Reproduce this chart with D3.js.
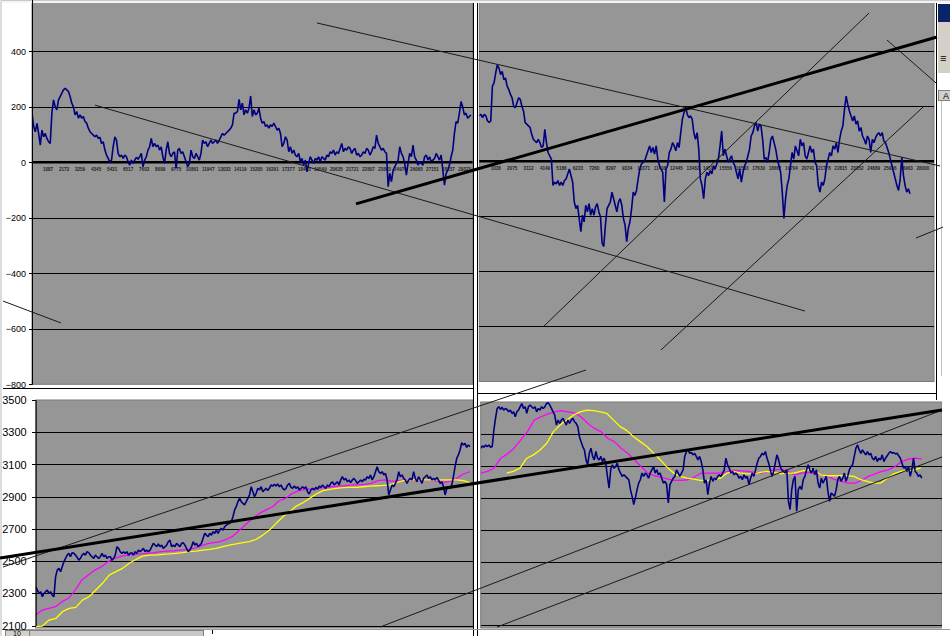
<!DOCTYPE html>
<html>
<head>
<meta charset="utf-8">
<script src="https://cdn.jsdelivr.net/npm/d3@7"></script>
<style>
body { margin: 0; background: #fff; overflow: hidden; }
svg { display: block; font-family: Arial, "Liberation Sans", sans-serif; }
</style>
</head>
<body>
<svg width="950" height="636"></svg>
<script>
// ---- data ----
var oscTicks = [400, 200, 0, -200, -400, -600, -800];
var oscGrid = [400, 200, -200, -400, -600];
var priceTicks = [3500, 3300, 3100, 2900, 2700, 2500, 2300, 2100];
var priceGrid = [3300, 3100, 2900, 2700, 2500, 2300, 2100];

var xLabelsLeft = [1087, 2173, 3259, 4345, 5431, 6517, 7603, 8689, 9775, 10861, 11947, 13033, 14119, 15205,
  16291, 17377, 18463, 19549, 20635, 21721, 22807, 23893, 24979, 26065, 27151, 28237, 29323];
var xLabelsRight = [1038, 2075, 3112, 4149, 5186, 6223, 7260, 8297, 9334, 10371, 11408, 12445, 13482, 14519,
  15556, 16593, 17630, 18667, 19704, 20741, 21778, 22815, 23852, 24889, 25926, 26963, 28000];

// oscillator, left window (categories 0..29760)
var oscLeftSpan = [0, 29760];
var oscLeft = [177,129,110,140,104,62,116,92,104,86,74,68,177,225,200,189,225,237,249,261,267,261,255,237,213,200,
  171,183,159,171,159,165,147,141,123,110,104,98,92,98,86,90,68,74,44,26,14,0,8,56,92,80,32,20,26,14,26,20,2,-10,
  8,-4,8,18,11,20,32,-16,8,20,44,56,86,56,68,56,62,44,56,20,-4,44,74,32,20,32,38,-22,44,50,32,38,20,2,-16,-4,44,
  20,14,32,20,8,32,80,68,74,56,68,80,68,74,80,68,80,92,104,98,104,110,116,123,135,177,177,183,227,189,213,171,189,
  177,195,239,165,189,171,177,195,159,141,147,129,135,123,135,129,141,129,116,123,104,56,68,92,80,38,56,32,44,26,
  20,32,2,14,-10,8,-34,-4,20,8,-4,14,8,20,2,20,14,8,26,20,38,32,44,26,38,32,50,68,38,50,44,56,50,32,44,50,26,32,
  20,26,38,32,50,44,26,38,56,50,98,68,56,44,50,38,32,-88,-40,-70,-28,-16,-4,8,56,32,20,-4,-46,-4,32,20,62,20,8,
  -10,2,-4,-10,20,26,8,20,2,8,14,32,20,8,26,-28,-82,-40,-28,-10,20,44,104,147,141,177,219,200,171,177,159,165,171];

// oscillator, right window (categories 0..27186)
var oscRightSpan = [0, 27186];
var oscRight = [165,171,159,171,165,147,141,147,273,285,321,351,339,315,327,297,303,273,261,243,231,200,195,213,231,
  225,200,183,141,135,129,123,98,80,74,68,80,68,50,56,116,68,32,20,8,-88,-76,-82,-70,-88,-76,-88,-70,-64,-46,-28,
  -52,-76,-148,-172,-160,-208,-256,-196,-220,-160,-184,-154,-196,-172,-196,-166,-154,-184,-202,-298,-310,-232,-172,
  -160,-148,-112,-136,-160,-184,-148,-136,-160,-208,-232,-292,-244,-220,-172,-112,-124,-106,-64,-28,-10,-4,2,20,38,
  56,32,50,26,56,8,-16,-28,-40,-148,-28,-16,32,44,68,56,38,68,50,104,153,177,195,171,159,165,153,104,80,104,44,-64,
  -88,-136,-64,-40,-52,-34,-46,-16,-28,-10,8,56,110,20,44,20,-4,8,20,-4,-16,-40,-64,-28,-76,-40,-16,-4,20,44,92,104,
  129,141,110,135,129,80,8,14,-4,32,80,92,68,44,8,-16,-40,-112,-208,-136,-88,-64,-16,32,8,56,38,20,80,56,68,20,8,
  32,56,32,44,-4,-16,-88,-112,-76,-88,-64,-16,8,32,20,56,44,68,32,80,110,129,189,237,207,183,165,147,165,135,147,
  110,123,92,80,62,92,80,32,80,68,86,98,104,92,104,74,68,50,32,8,-16,-40,-64,-88,-106,-64,14,-52,-88,-112,-100,-118];

// price and averages, left window (categories 0..29685)
var priceLeftSpan = [0, 29685];
var priceLeft = [2342,2321,2300,2311,2280,2300,2311,2321,2300,2311,2290,2280,2404,2445,2456,2435,2466,2497,2518,
  2538,2549,2528,2553,2549,2538,2524,2507,2518,2538,2549,2538,2559,2553,2538,2528,2518,2538,2528,2518,2528,2549,
  2528,2538,2518,2528,2528,2507,2518,2538,2590,2580,2559,2549,2559,2549,2559,2538,2549,2553,2538,2559,2549,2569,
  2559,2569,2580,2559,2569,2559,2569,2590,2611,2600,2590,2607,2590,2600,2580,2590,2600,2621,2631,2590,2600,2590,
  2611,2600,2590,2611,2615,2600,2580,2559,2569,2590,2621,2600,2611,2590,2600,2611,2642,2673,2662,2652,2673,2662,
  2683,2673,2693,2673,2693,2704,2693,2714,2724,2731,2735,2745,2776,2818,2838,2869,2890,2869,2859,2849,2869,2890,
  2911,2962,2931,2900,2921,2952,2942,2962,2931,2942,2952,2938,2952,2973,2966,2977,2966,2979,2962,2973,2952,2942,
  2952,2973,2983,2958,2952,2966,2952,2962,2942,2952,2962,2952,2962,2931,2917,2942,2952,2942,2958,2946,2966,2958,
  2973,2962,2952,2973,2962,2983,2993,2973,2983,2993,2973,3004,3024,3004,3014,2993,3004,2987,3004,3014,3000,2983,
  2993,3004,2993,3008,3004,3024,3014,3035,3004,3024,3055,3086,3055,3045,3055,3035,3045,3004,2911,2942,2973,2962,
  2983,3004,3055,3024,3035,3014,3004,2983,3004,3014,3004,3055,3014,2993,3024,3004,2983,3014,3024,3035,3014,3024,
  3004,3014,3004,3020,3004,2983,2993,2962,2911,2952,2962,2952,2973,3024,3086,3138,3159,3190,3235,3221,3231,3206,
  3221,3210];
var fastLeft = [2166,2197,2207,2218,2249,2270,2321,2383,2414,2445,2466,2497,2518,2532,2538,2543,2545,2549,2553,2559,
  2563,2565,2569,2573,2580,2594,2607,2615,2621,2636,2656,2693,2731,2766,2797,2818,2838,2875,2890,2921,2938,2946,
  2948,2952,2958,2962,2966,2968,2973,2973,2977,2983,3000,3004,2997,2997,3004,3004,3000,3004,3004,2997,2989,2997,
  3014,3041,3055];
var slowLeft = [2094,2098,2135,2145,2187,2207,2214,2259,2280,2321,2363,2414,2435,2456,2487,2511,2532,2538,2538,2543,
  2545,2549,2553,2559,2563,2569,2573,2580,2590,2600,2607,2615,2621,2636,2662,2693,2735,2776,2807,2842,2863,2890,
  2917,2938,2946,2952,2956,2958,2958,2962,2966,2968,2970,2973,2987,3000,3004,3004,3004,3004,3004,3004,3004,3004,
  3000,2987];

// price and averages, right window (categories 0..27439)
var priceRightSpan = [0, 27439];
var slowRightSpan = [1618, 27377];
var priceRight = [3211,3225,3217,3231,3221,3231,3217,3221,3325,3398,3460,3471,3454,3467,3450,3460,3454,3439,3450,
  3429,3439,3408,3439,3450,3471,3491,3460,3471,3429,3471,3481,3471,3460,3471,3439,3460,3450,3471,3460,3471,3491,
  3496,3481,3460,3439,3419,3356,3387,3367,3387,3398,3377,3356,3387,3367,3387,3398,3377,3367,3346,3283,3252,3221,
  3200,3138,3107,3179,3211,3159,3138,3190,3148,3138,3159,3127,3148,3117,3034,2961,3075,3107,3086,3096,3117,3075,
  3055,3034,3044,3034,3023,3013,2951,2909,2857,2899,2951,2992,3013,3055,3034,3055,3044,3023,3055,3075,3096,3055,
  3075,3044,3055,3023,2992,3003,2982,2867,2982,3003,3023,3034,3075,3055,3034,3055,3075,3159,3190,3200,3179,3184,
  3169,3179,3159,3138,3159,3127,3075,2992,3013,2919,2992,3034,3003,3023,3013,3034,3044,3034,3055,3075,3148,3107,
  3086,3055,3065,3044,3055,3044,3023,3034,3013,3044,3023,3034,2982,3023,3055,3034,3075,3117,3148,3159,3179,3169,
  3190,3148,3117,3075,3034,3065,3117,3169,3138,3096,3075,3065,3055,3075,2878,2826,2951,3013,3034,2815,2951,2971,
  2951,3013,3034,3075,3107,3075,3055,3086,3044,3075,2992,2961,3023,2992,3013,3034,2940,2878,2930,2920,2909,2951,
  3013,3034,3003,3023,3055,3003,3034,3075,3096,3107,3159,3211,3231,3200,3179,3200,3184,3169,3190,3169,3179,3148,
  3138,3159,3127,3148,3138,3169,3127,3148,3163,3179,3190,3179,3184,3175,3179,3163,3148,3117,3086,3096,3065,3096,
  3034,3075,3148,3065,3055,3034,3044,3023];
var fastRight = [3055,3065,3086,3148,3175,3211,3263,3315,3387,3408,3425,3439,3446,3439,3433,3408,3367,3335,3315,3273,
  3252,3211,3179,3138,3096,3055,3038,3030,3017,3009,3009,3013,3030,3055,3055,3055,3055,3065,3071,3069,3065,3059,
  3055,3065,3075,3079,3065,3044,3055,3059,3055,3044,3034,3013,3003,2992,2992,3009,3034,3050,3065,3075,3096,3127,
  3142,3148,3144];
var slowRight = [3055,3065,3086,3148,3169,3200,3242,3315,3356,3387,3419,3439,3450,3446,3439,3429,3387,3346,3321,3283,
  3252,3221,3179,3138,3092,3055,3034,3023,3017,3009,3009,3013,3023,3055,3065,3055,3050,3050,3059,3065,3059,3050,
  3055,3055,3065,3075,3075,3044,3038,3038,3038,3038,3034,3013,3003,2992,2992,3023,3050,3065,3071,3075,3086];

// hand drawn trend lines: [category, value] end points in a window's own scale
var thinLines = [
  { pane: "tr", from: [-10244, 503], to: [29079, -17] },
  { pane: "tl", from: [4271, 206], to: [52402, -536] },
  { pane: "tr", from: [4084, -599], to: [24598, 539] },
  { pane: "tr", from: [11469, -686], to: [28007, 197] },
  { pane: "tr", from: [25734, 441], to: [28827, 285] },
  { pane: "tl", from: [-1966, -500], to: [1966, -579] },
  { pane: "tr", from: [27564, -279], to: [29269, -239] },
  { pane: "bl", from: [-2235, 2464], to: [37613, 3686] },
  { pane: "br", from: [-6266, 2089], to: [28702, 3450] },
  { pane: "br", from: [1014, 2089], to: [28702, 3156] }
];
var thickLines = [
  { pane: "tr", from: [-7783, -155], to: [28890, 452] },
  { pane: "bl", from: [-2440, 2520], to: [61946, 3438] }
];

// ---- drawing ----
var svg = d3.select("svg");
var defs = svg.append("defs");

svg.append("rect").attr("width", 950).attr("height", 636).attr("fill", "#fff");

var panes = {
  tl: { left: 32, right: 472.6, top: -5, bottom: 384.3, cats: 29870, dom: [-800, 600], rng: [384.3, -4.2] },
  tr: { left: 479.3, right: 934, top: -5, bottom: 381.5, cats: 28700, dom: [-800, 600], rng: [381.3, -3.7] },
  bl: { left: 35.7, right: 472.7, top: 400, bottom: 628, cats: 29870, dom: [2100, 3500], rng: [625.7, 400] },
  br: { left: 480.7, right: 942, top: 402, bottom: 628, cats: 28700, dom: [2100, 3500], rng: [625.3, 402.1] }
};

Object.keys(panes).forEach(function(k) {
  var p = panes[k];
  p.x = d3.scaleLinear().domain([0, p.cats]).range([p.left, p.right]);
  p.y = d3.scaleLinear().domain(p.dom).range(p.rng);
  p.g = svg.append("g");
  p.g.append("rect")
    .attr("x", p.left).attr("y", p.top)
    .attr("width", p.right - p.left).attr("height", p.bottom - p.top)
    .attr("fill", "#969696").attr("stroke", "#7a7a7a").attr("stroke-width", 1);
  defs.append("clipPath").attr("id", "clip-" + k)
    .append("rect").attr("x", p.left).attr("y", p.top)
    .attr("width", p.right - p.left).attr("height", p.bottom - p.top);
});

function gridlines(p, values) {
  var g = p.g.append("g")
    .attr("transform", "translate(" + p.left + ",0)")
    .call(d3.axisLeft(p.y).tickValues(values).tickSize(-(p.right - p.left)).tickFormat(""));
  g.select(".domain").remove();
  g.selectAll("line").attr("stroke", "#000").attr("stroke-width", 1).attr("shape-rendering", "crispEdges");
}

function valueAxis(p, values, size, pad, fontSize) {
  var g = svg.append("g")
    .attr("transform", "translate(" + p.left + ",0)")
    .call(d3.axisLeft(p.y).tickValues(values).tickSize(size).tickPadding(pad).tickSizeOuter(0)
      .tickFormat(d3.format("d")));
  g.select(".domain").attr("stroke", "#000");
  g.selectAll("line").attr("stroke", "#000").attr("shape-rendering", "crispEdges");
  g.selectAll("text").attr("fill", "#000").attr("font-size", fontSize).attr("font-family", "Arial, 'Liberation Sans', sans-serif");
}

function zeroLine(p, labels) {
  p.g.append("line")
    .attr("x1", p.left).attr("x2", p.right)
    .attr("y1", p.y(0)).attr("y2", p.y(0))
    .attr("stroke", "#000").attr("stroke-width", 2.6);
  p.g.append("g").selectAll("text").data(labels).enter().append("text")
    .attr("x", function(d) { return p.x(d); })
    .attr("y", p.y(0) + 8.5)
    .attr("text-anchor", "middle")
    .attr("font-size", 4.6)
    .attr("font-weight", "bold")
    .attr("fill", "#222")
    .text(function(d) { return d; });
}

function series(p, key, vals, span, color, width) {
  var step = (span[1] - span[0]) / (vals.length - 1);
  var line = d3.line()
    .x(function(d, i) { return p.x(span[0] + i * step); })
    .y(function(d) { return p.y(d); });
  p.g.append("path")
    .datum(vals)
    .attr("clip-path", "url(#clip-" + key + ")")
    .attr("d", line)
    .attr("fill", "none")
    .attr("stroke", color)
    .attr("stroke-width", width)
    .attr("stroke-linejoin", "bevel");
}

// top windows: oscillator
gridlines(panes.tl, oscGrid);
gridlines(panes.tr, oscGrid);
zeroLine(panes.tl, xLabelsLeft);
zeroLine(panes.tr, xLabelsRight);
series(panes.tl, "tl", oscLeft, oscLeftSpan, "#000080", 1.6);
series(panes.tr, "tr", oscRight, oscRightSpan, "#000080", 1.6);

// bottom windows: price with two moving averages
gridlines(panes.bl, priceGrid);
gridlines(panes.br, priceGrid);
series(panes.bl, "bl", fastLeft, priceLeftSpan, "#ff00ff", 1.3);
series(panes.bl, "bl", slowLeft, priceLeftSpan, "#ffff00", 1.3);
series(panes.bl, "bl", priceLeft, priceLeftSpan, "#000080", 1.6);
series(panes.br, "br", fastRight, priceRightSpan, "#ff00ff", 1.3);
series(panes.br, "br", slowRight, slowRightSpan, "#ffff00", 1.3);
series(panes.br, "br", priceRight, priceRightSpan, "#000080", 1.6);

// window frames of the sheet
var frame = svg.append("g").attr("shape-rendering", "crispEdges");
frame.append("rect").attr("x", 0).attr("y", 0).attr("width", 950).attr("height", 3).attr("fill", "#f4f4f4");
frame.append("line").attr("x1", 0).attr("x2", 950).attr("y1", 0.5).attr("y2", 0.5).attr("stroke", "#c8c8c8");
frame.append("rect").attr("x", 0).attr("y", 0).attr("width", 2).attr("height", 636).attr("fill", "#dcdcdc");
frame.append("line").attr("x1", 3).attr("x2", 474).attr("y1", 388.5).attr("y2", 388.5).attr("stroke", "#000");
frame.append("line").attr("x1", 476).attr("x2", 937).attr("y1", 393.5).attr("y2", 393.5).attr("stroke", "#000");
frame.append("line").attr("x1", 936.5).attr("x2", 936.5).attr("y1", 3).attr("y2", 400).attr("stroke", "#000");
frame.append("rect").attr("x", 474).attr("y", 3).attr("width", 3).attr("height", 633).attr("fill", "#fff");
frame.append("line").attr("x1", 473.5).attr("x2", 473.5).attr("y1", 3).attr("y2", 636).attr("stroke", "#000").attr("stroke-width", 1.5);
frame.append("line").attr("x1", 477.5).attr("x2", 477.5).attr("y1", 3).attr("y2", 636).attr("stroke", "#000");

// neighbouring window on the right
frame.append("rect").attr("x", 937).attr("y", 3).attr("width", 13).attr("height", 393).attr("fill", "#fff");
frame.append("rect").attr("x", 938).attr("y", 4).attr("width", 12).attr("height", 18).attr("fill", "#0a246a");
frame.append("rect").attr("x", 938).attr("y", 22).attr("width", 12).attr("height", 51).attr("fill", "#d4d0c8");
frame.append("text").attr("x", 940).attr("y", 62).attr("font-size", 11).attr("fill", "#000").text("≡");
frame.append("rect").attr("x", 938.5).attr("y", 90.5).attr("width", 12).attr("height", 10).attr("fill", "#d4d0c8").attr("stroke", "#808080");
frame.append("text").attr("x", 943).attr("y", 99).attr("font-size", 9).attr("fill", "#000").text("A");
frame.append("line").attr("x1", 941.5).attr("x2", 941.5).attr("y1", 101).attr("y2", 376).attr("stroke", "#c0c0c0");
frame.append("rect").attr("x", 942).attr("y", 396).attr("width", 8).attr("height", 240).attr("fill", "#fff");

// sheet tabs strip at the bottom
frame.append("rect").attr("x", 2).attr("y", 629).attr("width", 471).attr("height", 7).attr("fill", "#fff");
frame.append("rect").attr("x", 478).attr("y", 629).attr("width", 472).attr("height", 7).attr("fill", "#fff");
frame.append("line").attr("x1", 2).attr("x2", 950).attr("y1", 629.5).attr("y2", 629.5).attr("stroke", "#9a9a9a");
frame.append("rect").attr("x", 5.5).attr("y", 630.5).attr("width", 24).attr("height", 7).attr("fill", "#d4d0c8").attr("stroke", "#808080");
frame.append("text").attr("x", 13).attr("y", 636).attr("font-size", 7).attr("fill", "#000").text("10");
frame.append("rect").attr("x", 29.5).attr("y", 630.5).attr("width", 174).attr("height", 7).attr("fill", "#c8c8c8").attr("stroke", "#808080");
frame.append("line").attr("x1", 212.5).attr("x2", 212.5).attr("y1", 630).attr("y2", 634).attr("stroke", "#000");

// value axes sit above the frames so their labels are not covered
valueAxis(panes.tl, oscTicks, 3, 3, 9);
valueAxis(panes.bl, priceTicks, 4, 5, 11);

// trend lines drawn over the windows
function trend(list, width, color) {
  svg.append("g").selectAll("line").data(list).enter().append("line")
    .attr("x1", function(d) { return panes[d.pane].x(d.from[0]); })
    .attr("y1", function(d) { return panes[d.pane].y(d.from[1]); })
    .attr("x2", function(d) { return panes[d.pane].x(d.to[0]); })
    .attr("y2", function(d) { return panes[d.pane].y(d.to[1]); })
    .attr("stroke", color)
    .attr("stroke-width", width);
}
trend(thinLines, 1, "#1a1a1a");
trend(thickLines, 3, "#000");
</script>
</body>
</html>
